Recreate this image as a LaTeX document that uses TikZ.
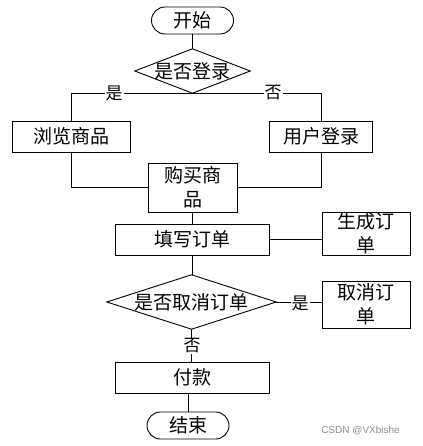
\documentclass[tikz,border=0pt]{standalone}
\usepackage{fontspec}
\setmainfont{Noto Sans CJK SC}
\newfontfamily\wmfont{Liberation Sans}
\begin{document}
\begin{tikzpicture}[x=1pt,y=-1pt,
  every node/.style={inner sep=0pt, font=\fontsize{19}{24}\selectfont},
  box/.style={draw, line width=0.9pt, rectangle, align=center},
  term/.style={draw, line width=0.9pt, rectangle, rounded corners=13.5pt, minimum width=82pt, minimum height=27pt},
  dia/.style={rectangle, inner sep=0pt},
  conn/.style={line width=0.9pt},
  lbl/.style={fill=white, inner sep=1pt, font=\fontsize{17}{17}\selectfont}]
\useasboundingbox (0,0) rectangle (422,446);
\node[term] (start) at (192.5,20.5) {开始};
\node[dia, minimum width=115pt, minimum height=44pt] (d1) at (192.5,71) {是否登录};
\draw[conn] (d1.north) -- (d1.east) -- (d1.south) -- (d1.west) -- cycle;
\node[box, minimum width=118pt, minimum height=31pt] (browse) at (71,136.5) {浏览商品};
\node[box, minimum width=103pt, minimum height=31pt] (login) at (321,136.5) {用户登录};
\node[box, minimum width=89pt, minimum height=49pt] (buy) at (192.5,187.5) {购买商\\品};
\node[box, minimum width=154pt, minimum height=31pt] (fill) at (192,239.5) {填写订单};
\node[box, minimum width=88pt, minimum height=43pt] (gen) at (366,233.5) {生成订\\单};
\node[dia, minimum width=169pt, minimum height=54pt] (d2) at (191.5,302) {是否取消订单};
\draw[conn] (d2.north) -- (d2.east) -- (d2.south) -- (d2.west) -- cycle;
\node[box, minimum width=88pt, minimum height=47pt] (cancel) at (366,304.5) {取消订\\单};
\node[box, minimum width=154pt, minimum height=31pt] (pay) at (192,377.5) {付款};
\node[term] (end) at (188,425.5) {结束};
\node[font=\wmfont\fontsize{10}{10}\selectfont, text=black!45] (wm) at (360.5,431) {CSDN @VXbishe};
\draw[conn] (start.south) -- (d1.north);
\draw[conn] (d1.south) -| (browse.north);
\draw[conn] (d1.south) -| (login.north);
\node[lbl] (yes1) at (114,93) {是};
\node[lbl] (no1) at (273,93) {否};
\draw[conn] (browse.south) |- (buy.west);
\draw[conn] (login.south) |- (buy.east);
\draw[conn] (buy.south) -- (buy.south |- fill.north);
\draw[conn] (fill.east) -- (fill.east -| gen.west);
\draw[conn] (fill.south) -- (fill.south |- d2.north);
\draw[conn] (d2.east) -- (d2.east -| cancel.west);
\node[lbl] (yes2) at (300,303) {是};
\draw[conn] (d2.south) -- (d2.south |- pay.north);
\node[lbl] (no2) at (192,346) {否};
\draw[conn] (end.north |- pay.south) -- (end.north);
\end{tikzpicture}
\end{document}
